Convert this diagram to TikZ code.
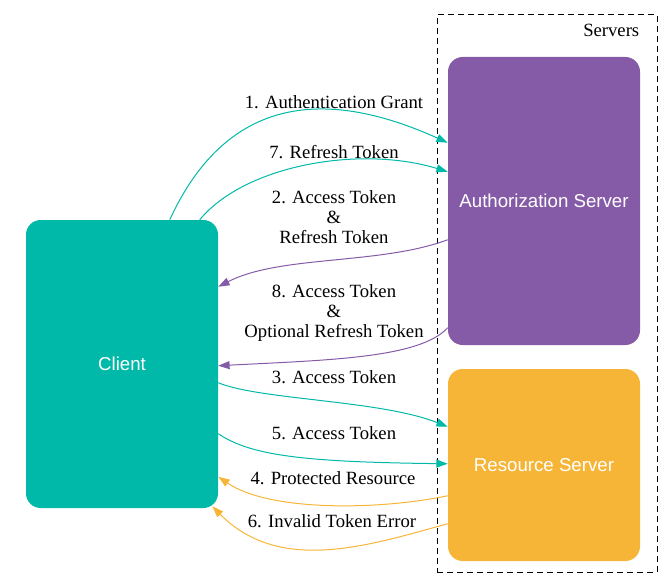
\documentclass[tikz,border=0pt]{standalone}
\usepackage{fontspec}
\setmainfont{Liberation Serif}
\newfontfamily\sansf{Liberation Sans}
\usetikzlibrary{calc,arrows.meta}
\definecolor{teal1}{HTML}{00B9A8}
\definecolor{purp1}{HTML}{855BA8}
\definecolor{oran1}{HTML}{F7B538}
\begin{document}
\begin{tikzpicture}[x=0.75pt,y=-0.75pt,
  box/.style={rectangle,rounded corners=11pt,minimum width=144pt,inner sep=0pt,text=white,font=\sansf\fontsize{14pt}{16pt}\selectfont},
  lbl/.style={align=center,inner sep=0pt,font=\fontsize{14pt}{15pt}\selectfont},
  conn/.style={line width=0.75pt,-{Triangle[length=8.5pt,width=6pt]}}]
\useasboundingbox (0,0) rectangle (667,588);
\node[draw,dash pattern=on 4.5pt off 3pt,line width=0.75pt,minimum width=165pt,minimum height=417.75pt,inner sep=0pt] (servers) at (547,293.5) {};
\node[lbl,anchor=north east] (serverslbl) at ($(servers.north east)+(-18,9)$) {Servers};
\node[box,fill=purp1,minimum height=216pt] (auth) at (544,201) {Authorization Server};
\node[box,fill=oran1,minimum height=144pt] (res) at (544,465) {Resource Server};
\node[box,fill=teal1,minimum height=216pt] (client) at (122,364) {Client};
% edges
\draw[conn,teal1] ($(client.north west)+(144,0)$) .. controls (225,100) and (320,85) .. ($(auth.north west)+(0,86)$);
\draw[conn,teal1] ($(client.north west)+(174,0)$) .. controls (245,165) and (360,145) .. ($(auth.north west)+(0,115)$);
\draw[conn,purp1] ($(auth.north west)+(0,183)$) .. controls (380,265) and (280,255) .. ($(client.north east)+(0,67)$);
\draw[conn,purp1] ($(auth.north west)+(0,271)$) .. controls (420,358) and (330,360) .. ($(client.north east)+(0,146)$);
\draw[conn,teal1] ($(client.north east)+(0,163)$) .. controls (260,400) and (380,400) .. ($(res.north west)+(0,58)$);
\draw[conn,teal1] ($(client.north east)+(0,214)$) .. controls (250,455) and (300,462) .. ($(res.north west)+(0,95)$);
\draw[conn,oran1] ($(res.north west)+(0,127)$) .. controls (380,510) and (270,512) .. ($(client.north east)+(0,257)$);
\draw[conn,oran1] ($(res.north west)+(0,155)$) .. controls (370,545) and (280,575) .. ($(client.south east)+(-6,-2)$);
% labels
\node[lbl] (l1) at (334,102) {1. Authentication Grant};
\node[lbl] (l7) at (334,152) {7. Refresh Token};
\node[lbl] (l2) at (334,217) {2. Access Token\\\&\\Refresh Token};
\node[lbl] (l8) at (334,313) {8. Access Token\\\&\\Optional Refresh Token};
\node[lbl] (l3) at (334,377) {3. Access Token};
\node[lbl] (l5) at (334,433) {5. Access Token};
\node[lbl] (l4) at (333,478) {4. Protected Resource};
\node[lbl] (l6) at (332,521) {6. Invalid Token Error};
\end{tikzpicture}
\end{document}
